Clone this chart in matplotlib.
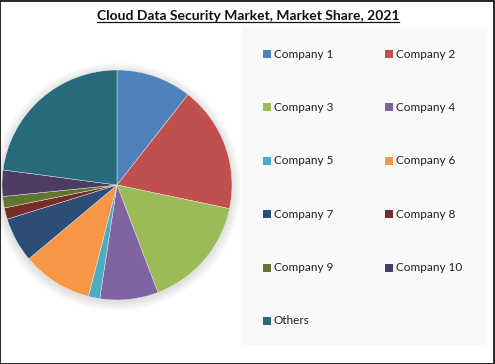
import matplotlib
matplotlib.use("Agg")
import matplotlib.pyplot as plt
from matplotlib.patches import Rectangle, Circle
from matplotlib.lines import Line2D

categories = ["Company 1", "Company 2", "Company 3", "Company 4", "Company 5",
              "Company 6", "Company 7", "Company 8", "Company 9", "Company 10", "Others"]
shares = [10.6, 17.7, 15.9, 8.2, 1.6, 9.9, 6.3, 1.6, 1.6, 3.7, 22.9]
colors = ["#4F81BD", "#C0504D", "#9BBB59", "#8064A2", "#4BACC6", "#F79646",
          "#2C4D75", "#772C2A", "#5F7530", "#4D3B62", "#276A7C"]
title = "Cloud Data Security Market, Market Share, 2021"

W, H = 495, 364
fig = plt.figure(figsize=(W / 100, H / 100), dpi=100)
fig.patch.set_facecolor("white")

def fx(x):
    return x / W

def fy(y):
    return 1 - y / H

# legend panel background
fig.add_artist(Rectangle((fx(242), fy(345)), fx(487) - fx(242), fy(27) - fy(345),
                         transform=fig.transFigure, facecolor="#F9F9F9",
                         edgecolor="none", zorder=0))

# pie
cx, cy, r = 117, 185, 115
ax = fig.add_axes([fx(cx - r - 10), fy(cy + r + 10), 2 * (r + 10) / W, 2 * (r + 10) / H])
ax.set_aspect("equal")
ax.axis("off")
# soft shadow
for i in range(10):
    ax.add_patch(Circle((0.0, -0.015), 1.0 + 0.008 * (i + 1), facecolor="#000000",
                        alpha=0.01, edgecolor="none", zorder=0))
wedges, _ = ax.pie(shares, colors=colors, startangle=90, counterclock=False,
                   radius=1.0, wedgeprops=dict(edgecolor="#EEEEEE", linewidth=0.3))
lim = (r + 10) / r
ax.set_xlim(-lim, lim)
ax.set_ylim(-lim, lim)

# legend (two columns, row-wise)
col_x = [267, 389]
row_y0, row_dy = 54, 53.4
for i, (w, lab) in enumerate(zip(wedges, categories)):
    row, col = divmod(i, 2)
    x = col_x[col]
    y = row_y0 + row * row_dy
    fig.add_artist(Rectangle((fx(x - 4), fy(y + 4)), 8 / W, 8 / H,
                             transform=fig.transFigure, facecolor=w.get_facecolor(),
                             edgecolor="none"))
    fig.text(fx(x + 7), fy(y), lab, fontsize=8.5, color="#202020",
             va="center", ha="left", family="Lato")

# title with underline
t = fig.text(fx(248), fy(16), title, fontsize=10, fontweight="bold",
             ha="center", va="center", color="#111111", family="Lato")
fig.canvas.draw()
bb = t.get_window_extent(renderer=fig.canvas.get_renderer())
ul_y = bb.y0 + 0.5
fig.add_artist(Line2D([bb.x0 / fig.bbox.width, bb.x1 / fig.bbox.width],
                      [ul_y / fig.bbox.height, ul_y / fig.bbox.height],
                      transform=fig.transFigure, color="#111111", linewidth=0.9))

# outer border
fig.add_artist(Rectangle((0.001, 0.001), 0.997, 0.997, transform=fig.transFigure,
                         facecolor="none", edgecolor="#000000", linewidth=1.2))

fig.savefig("out.png", dpi=100)
